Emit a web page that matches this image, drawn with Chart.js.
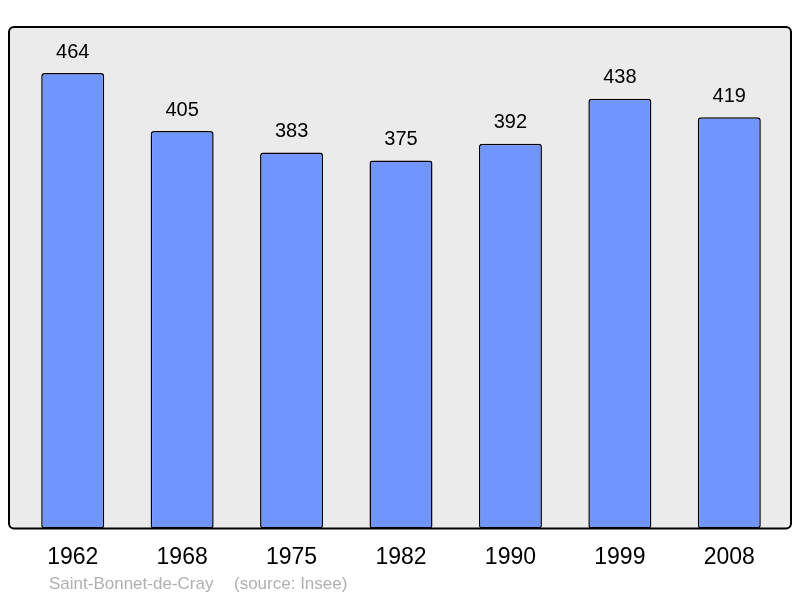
<!DOCTYPE html>
<html>
<head>
<meta charset="utf-8">
<script src="https://cdn.jsdelivr.net/npm/chart.js@4/dist/chart.umd.min.js"></script>
<style>
  html, body { margin: 0; padding: 0; background: #ffffff; }
  #wrap { width: 800px; height: 598px; }
</style>
</head>
<body>
<div id="wrap"><canvas id="pop"></canvas></div>
<script>
'use strict';

// data
const years = ['1962', '1968', '1975', '1982', '1990', '1999', '2008'];
const population = [464, 405, 383, 375, 392, 438, 419];
const townName = 'Saint-Bonnet-de-Cray';
const sourceNote = '(source: Insee)';

const FONT = '"Liberation Sans", Arial, sans-serif';


// grey rounded frame behind the bars
const framePlugin = {
    id: 'frame',
    beforeDatasetsDraw(chart) {
        const ctx = chart.ctx;
        const a = chart.chartArea;
        const x0 = 9, x1 = 791, y0 = a.top, y1 = a.bottom;
        ctx.save();
        ctx.beginPath();
        ctx.roundRect(x0, y0, x1 - x0, y1 - y0, 5);
        ctx.fillStyle = '#ebebeb';
        ctx.fill();
        ctx.restore();
    },
    afterDatasetsDraw(chart) {
        const ctx = chart.ctx;
        const a = chart.chartArea;
        const x0 = 9, x1 = 791, y0 = a.top, y1 = a.bottom;
        ctx.save();
        ctx.beginPath();
        ctx.roundRect(x0, y0, x1 - x0, y1 - y0, 5);
        ctx.lineWidth = 2;
        ctx.strokeStyle = '#000000';
        ctx.stroke();
        ctx.restore();
    }
};


// numbers over each bar and the footer line
const labelPlugin = {
    id: 'labels',
    afterDraw(chart) {
        const ctx = chart.ctx;
        const meta = chart.getDatasetMeta(0);
        ctx.save();
        ctx.font = '20px ' + FONT;
        ctx.fillStyle = '#000000';
        ctx.textAlign = 'center';
        ctx.textBaseline = 'middle';
        meta.data.forEach((bar, i) => {
            ctx.fillText(String(population[i]), bar.x, bar.y - 21);
        });

        ctx.font = '17px ' + FONT;
        ctx.fillStyle = '#b0b0b0';
        ctx.textAlign = 'left';
        ctx.fillText(townName, 49, 584);
        ctx.fillText(sourceNote, 234, 584);
        ctx.restore();
    }
};


new Chart(document.getElementById('pop').getContext('2d'), {
    type: 'bar',
    data: {
        labels: years,
        datasets: [{
            data: population,
            backgroundColor: '#7095ff',
            borderColor: '#000000',
            borderWidth: 1.5,
            borderRadius: 3,
            borderSkipped: false,
            categoryPercentage: 1,
            barPercentage: 0.576
        }]
    },
    options: {
        responsive: true,
        maintainAspectRatio: false,
        animation: false,
        events: [],
        layout: { padding: { left: 18, right: 16, top: 27, bottom: 12 } },
        plugins: {
            legend: { display: false },
            tooltip: { enabled: false }
        },
        scales: {
            x: {
                grid: { display: false, drawTicks: false },
                border: { display: false },
                ticks: {
                    color: '#000000',
                    padding: 15,
                    font: { family: FONT, size: 23 }
                }
            },
            y: {
                display: false,
                min: 0,
                max: 511
            }
        }
    },
    plugins: [framePlugin, labelPlugin]
});
</script>
</body>
</html>
